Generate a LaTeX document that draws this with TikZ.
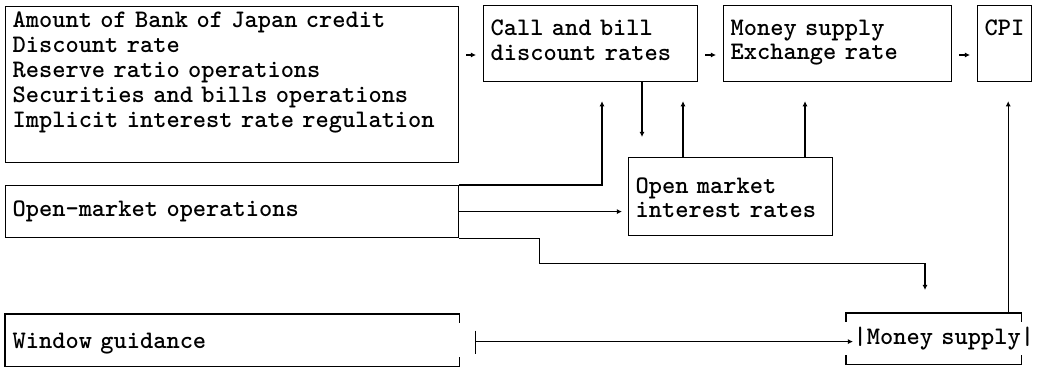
\documentclass[tikz,border=0pt]{standalone}
\usepackage{tikz}
\usetikzlibrary{arrows.meta}
\newcommand{\padlow}[1]{\rule[-#1]{0pt}{#1}}

\begin{document}
\begin{tikzpicture}[
 x=0.5pt, y=-0.5pt, >={Latex[length=2.6pt,width=2.6pt]}, line width=0.6pt,
 font=\ttfamily\bfseries\fontsize{12.6pt}{12.45pt}\selectfont,
 plain/.style={anchor=north west, align=left, inner xsep=3.5pt, inner ysep=0pt},
 box/.style={plain, draw}]
\useasboundingbox (0,0) rectangle (1042,367);
% top row
\node[box, text width=219.5pt, minimum height=78pt] (credit) at (5,6) {Amount of Bank of Japan credit\\ Discount rate\\ Reserve ratio operations\\ Securities and bills operations\\ Implicit interest rate regulation\padlow{15pt}};
\node[box, text width=100pt, minimum height=38pt] (call) at (483,5) {Call and bill\\ discount rates\padlow{3.8pt}};
\node[box, text width=107pt, minimum height=38pt] (money) at (723,5) {Money supply\\ Exchange rate\padlow{3.8pt}};
\node[box, align=center, minimum width=25.5pt, minimum height=38pt] (cpi) at (977,5) {CPI\padlow{16pt}};
% middle
\node[box, text width=219.5pt, minimum height=26pt] (openops) at (5,185) {Open-market operations};
\node[box, text width=95pt, minimum height=39pt] (mktrate) at (628,157) {\rule{0pt}{9pt}Open market\\ interest rates};
% bottom row, open-sided frames
\node[plain, text width=219.5pt, minimum height=25.5pt] (window) at (5,314) {\rule{0pt}{11.5pt}Window guidance};
\node[plain, text width=80pt, minimum height=25pt] (msupply) at (846,313) {\rlap{|Money supply|}};
\draw ([yshift=-4.5pt]window.north east) -- (window.north east) -- (window.north west)
  -- (window.south west) -- (window.south east) -- ([yshift=4.5pt]window.south east);
\draw ([yshift=-4.5pt]msupply.north west) -- (msupply.north west) -- (msupply.north east) -- ([yshift=-4.5pt]msupply.north east);
\draw ([yshift=4.5pt]msupply.south west) -- (msupply.south west) -- (msupply.south east) -- ([yshift=4.5pt]msupply.south east);

\coordinate (row) at (0,55);
\foreach \a/\b in {credit/call, money/cpi, call/money}
  \draw[->, shorten <=3.5pt, shorten >=3.5pt] (\a.east |- row) -- (\b.west |- row);

\draw[->, shorten >=9.5pt] (openops.north east) -| ([xshift=59.5pt]call.south west);
\draw[->, shorten >=10pt] ([xshift=79.5pt]call.south west) coordinate (cdown) -- (cdown |- mktrate.north);
\draw[->, shorten >=9.5pt] ([xshift=27.5pt]mktrate.north west) coordinate (mup) -- (mup |- call.south);
\draw[->, shorten >=9.5pt] ([xshift=88.5pt]mktrate.north west) coordinate (xup) -- (xup |- money.south);
\draw[->, shorten >=3pt] (openops.east) -- (openops.east -| mktrate.west);
\draw[->, shorten >=11.5pt] (openops.south east) -- ++(40pt,0) -- ++(0,-12.5pt) -| ([xshift=39.5pt]msupply.north west);
\draw[->, shorten >=9.5pt] ([xshift=-6.5pt]msupply.north east) coordinate (pup) -- (pup |- cpi.south);

\coordinate (wtick) at ([xshift=8pt,yshift=-0.75pt]window.east);
\draw ([yshift=5.5pt]wtick) -- ([yshift=-6pt]wtick);
\draw[->, shorten >=-3.5pt] (wtick) -- (wtick -| msupply.west);
\end{tikzpicture}
\end{document}
